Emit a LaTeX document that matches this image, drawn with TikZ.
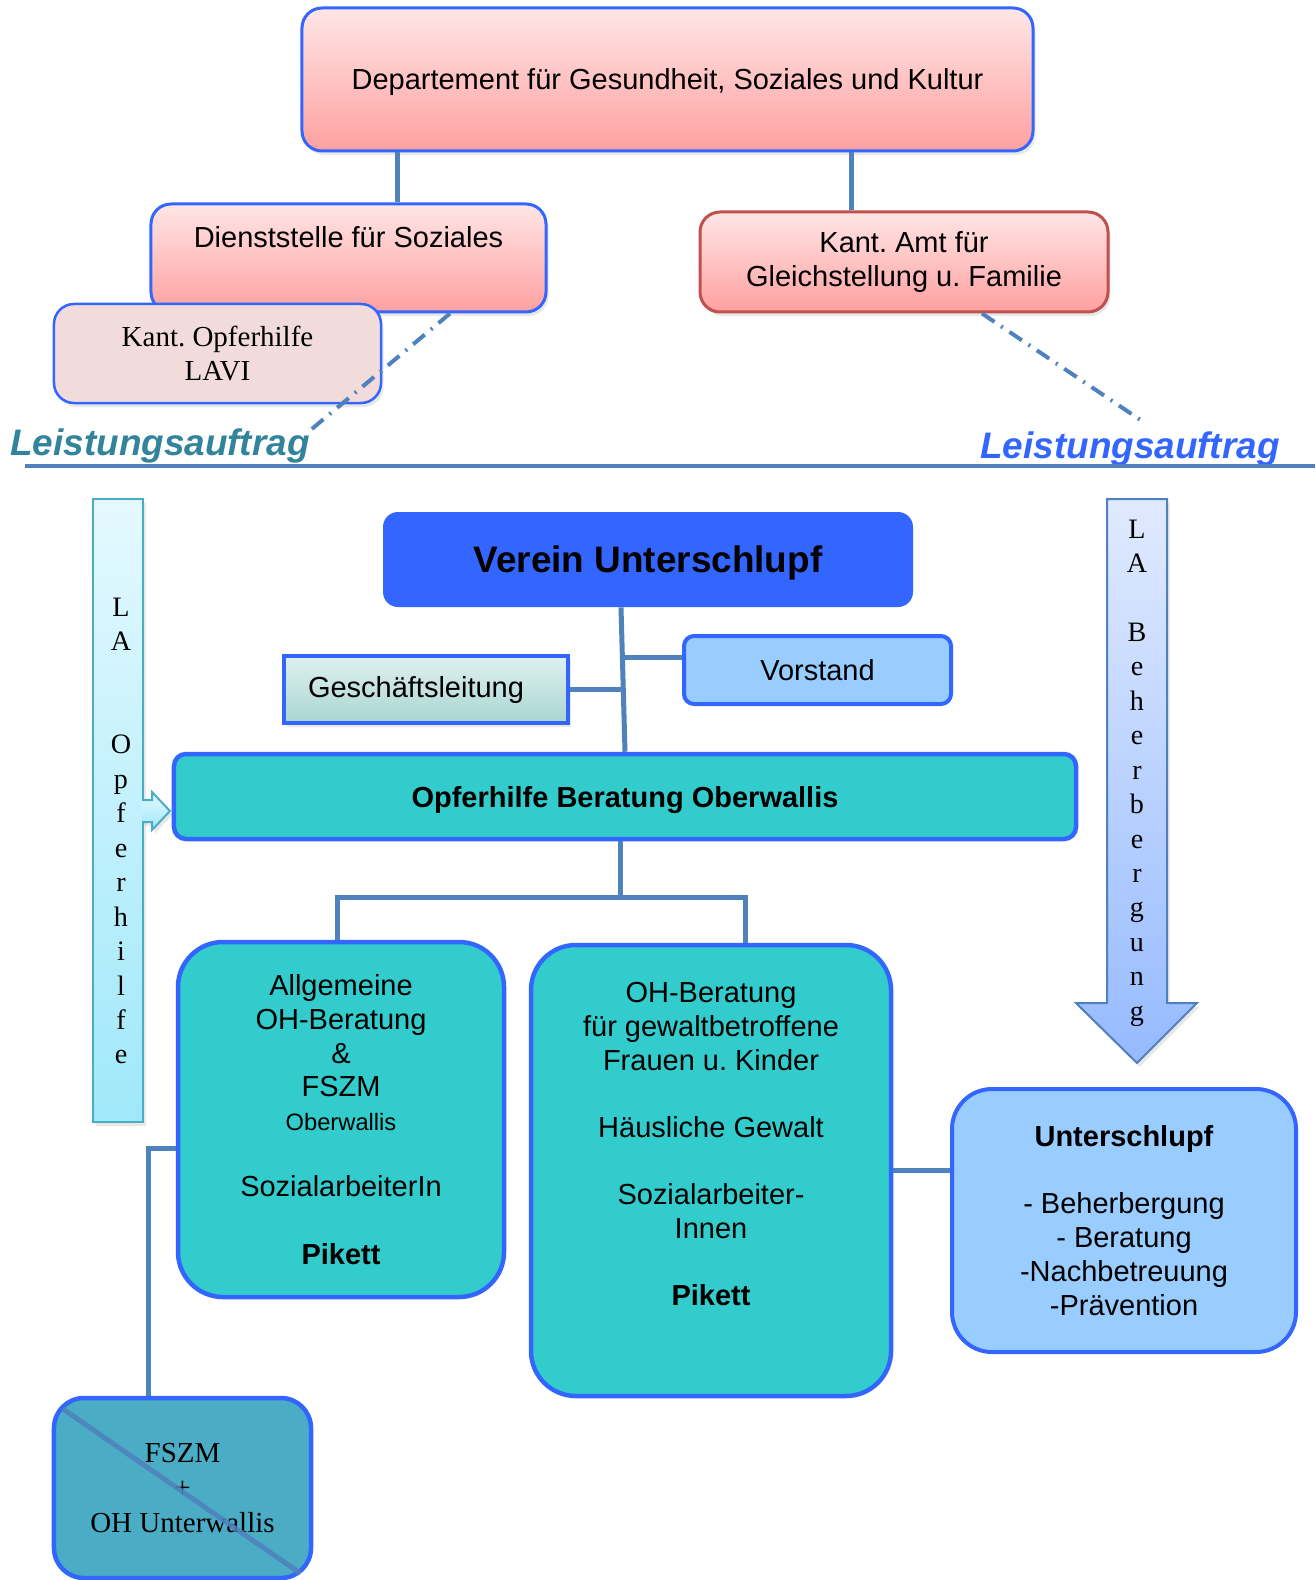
\documentclass[tikz,border=0pt]{standalone}
\usepackage{fontspec}
\setsansfont{Liberation Sans}
\newfontfamily\serifface{Liberation Serif}
\usepackage{tikz}
\usetikzlibrary{positioning,shadows}
\usepackage{xcolor}
\definecolor{boxblue}{RGB}{51,102,255}
\definecolor{steel}{RGB}{79,129,189}
\definecolor{lateal}{RGB}{49,132,155}
\definecolor{amtred}{RGB}{192,80,77}
\definecolor{pinktop}{RGB}{255,230,230}
\definecolor{pinkbot}{RGB}{255,160,160}
\definecolor{lavifill}{RGB}{242,220,219}
\definecolor{gltop}{RGB}{224,240,242}
\definecolor{glbot}{RGB}{168,214,208}
\definecolor{skyfill}{RGB}{153,204,255}
\definecolor{tealfill}{RGB}{51,204,204}
\definecolor{fszmfill}{RGB}{75,172,198}
\definecolor{lbartop}{RGB}{228,249,255}
\definecolor{lbarbot}{RGB}{160,232,250}
\definecolor{rartop}{RGB}{224,234,255}
\definecolor{rarbot}{RGB}{150,186,255}
\frenchspacing

\begin{document}
\begin{tikzpicture} [
        x = 0.2mm, y = -0.2mm,
        every node/.style = { inner sep = 0, align = center, font = \sffamily\fontsize{16.5}{19.2}\selectfont },
        softshadow/.style = { drop shadow = {opacity=.18,shadow xshift=.5mm,shadow yshift=-.8mm} },
        pinkbox/.style = { draw = boxblue, line width = .6mm, rounded corners = 4mm, top color = pinktop, bottom color = pinkbot, softshadow },
        lavibox/.style = { draw = boxblue, line width = .5mm, rounded corners = 4mm, fill = lavifill, softshadow, font = \serifface\fontsize{16.5}{19.9}\selectfont },
        vereinbox/.style = { fill = boxblue, rounded corners = 3mm, text depth = 0pt, font = \sffamily\bfseries\fontsize{21}{24}\selectfont },
        glbox/.style = { draw = boxblue, line width = .8mm, top color = gltop, bottom color = glbot, softshadow },
        skybox/.style = { draw = boxblue, line width = .8mm, fill = skyfill },
        tealbox/.style = { draw = boxblue, line width = .9mm, fill = tealfill },
        fszmbox/.style = { draw = boxblue, line width = .9mm, rounded corners = 6mm, fill = fszmfill, font = \serifface\fontsize{16.5}{19.9}\selectfont },
        lbarbox/.style = { draw = fszmfill, line width = .4mm, top color = lbartop, bottom color = lbarbot, softshadow },
        rarrow/.style = { draw = steel, line width = .4mm, top color = rartop, bottom color = rarbot, softshadow },
        vletters/.style = { font = \serifface\fontsize{16}{19.6}\selectfont },
        latitle/.style = { font = \sffamily\bfseries\itshape\fontsize{21}{24}\selectfont },
        conn/.style = { draw = steel, line width = 1mm },
        lalink/.style = { draw = steel, line width = .8mm, dash pattern = on 3mm off 1.6mm on .4mm off 1.6mm },
        strike/.style = { draw = steel, line width = 1mm, opacity = .85 }
        ]
        \useasboundingbox (0,0) rectangle (1315,1580);

        \node [pinkbox, text depth = 0pt, minimum width = 146.2mm, minimum height = 28.6mm] (dept) at (667.5,79.5) {Departement für Gesundheit, Soziales und Kultur};
        \node [pinkbox, minimum width = 79mm, minimum height = 21.6mm] (diens) at (348.5,258) {};
        \node (dienstxt) at (348.5,237) {Dienststelle für Soziales};
        \node [pinkbox, draw = amtred, minimum width = 81.6mm, minimum height = 20mm] (amt) at (904,262) {Kant. Amt für\\Gleichstellung u. Familie};
        \node [lavibox, minimum width = 65.4mm, minimum height = 19.8mm] (lavi) at (217.5,353.5) {Kant. Opferhilfe\\LAVI};

        \draw [conn] ([xshift = -54.1mm]dept.south) -- ([xshift = -54.1mm]dept.south |- diens.north);
        \draw [conn] ([xshift = 36.7mm]dept.south) -- ([xshift = 36.7mm]dept.south |- amt.north);

        \coordinate (laleft) at (307,433);
        \coordinate (laright) at (1142,421);
        \draw [lalink] ([xshift = 20.3mm]diens.south) -- (laleft);
        \draw [lalink] ([xshift = 15.6mm]amt.south) -- (laright);

        \node [latitle, text = lateal, anchor = base] (laltxt) at (160,455) {Leistungsauftrag};
        \node [latitle, text = boxblue, anchor = base] (lartxt) at (1130,458) {Leistungsauftrag};

        \coordinate (hleft) at (25,466);
        \coordinate (hright) at (1315,466);
        \draw [steel, line width = .9mm] (hleft) -- (hright);

        \node [lbarbox, minimum width = 10mm, minimum height = 124.6mm] (lbar) at (118,810.5) {};
        \draw [lbarbox] (142,800) -- (152,800) -- (152,792) -- (170,811) -- (152,830) -- (152,822) -- (142,822);
        \node [vletters] (lbartxt) at (121,831) {L\\A\\~\\~\\O\\p\\f\\e\\r\\h\\i\\l\\f\\e};

        \draw [rarrow] (1107,499) -- (1167,499) -- (1167,1003) -- (1197,1003) -- (1137,1063) -- (1076,1003) -- (1107,1003) -- cycle;
        \node [vletters] (rarrtxt) at (1137,773) {L\\A\\~\\B\\e\\h\\e\\r\\b\\e\\r\\g\\u\\n\\g};

        \node [vereinbox, minimum width = 106mm, minimum height = 19mm] (verein) at (648,559.5) {Verein Unterschlupf};
        \node [glbox, minimum width = 56.8mm, minimum height = 13.4mm] (gl) at (426,689.5) {Geschäftsleitung\hspace{4mm}};
        \node [skybox, rounded corners = 2mm, minimum width = 53.4mm, minimum height = 13.6mm] (vorstand) at (817.5,670) {Vorstand};
        \node [tealbox, rounded corners = 2.4mm, text depth = 0pt, minimum width = 180.4mm, minimum height = 17mm, font = \sffamily\bfseries\fontsize{16.5}{19.2}\selectfont] (obo) at (625,796.5) {Opferhilfe Beratung Oberwallis};

        \draw [conn] ([xshift = -5.4mm]verein.south) -- (obo.north);
        \draw [conn] (gl.east) -- ++(11mm,0);
        \draw [conn] ([yshift = 2.6mm]vorstand.west) -- ++(-12.2mm,0);

        \node [tealbox, rounded corners = 9mm, minimum width = 65.2mm, minimum height = 71mm] (allg) at (341,1119.5) {Allgemeine\\OH-Beratung\\\&\\FSZM\\{\fontsize{13.5}{16}\selectfont Oberwallis}\\[18pt]SozialarbeiterIn\\[19.5pt]\textbf{Pikett}};
        \node [tealbox, rounded corners = 9mm, minimum width = 72mm, minimum height = 90.2mm] (mid) at (711,1170.5) {};
        \node (midtxt) at (711,1144) {OH-Beratung\\für gewaltbetroffene\\Frauen u. Kinder\\[19pt]Häusliche Gewalt\\[19pt]Sozialarbeiter-\\Innen\\[19pt]\textbf{Pikett}};
        \node [skybox, rounded corners = 8mm, minimum width = 68.8mm, minimum height = 52.6mm] (unter) at (1124,1220.5) {\textbf{Unterschlupf}\\[19pt]- Beherbergung\\- Beratung\\-Nachbetreuung\\-Prävention};
        \node [fszmbox, minimum width = 51.4mm, minimum height = 36mm] (fszm) at (182.5,1488) {FSZM\\+\\OH Unterwallis};

        \draw [conn] ([xshift = -1mm]obo.south) -- ++(0,-11.2mm) coordinate (fork);
        \draw [conn] ([xshift = -0.8mm]allg.north) |- (fork) -| ([xshift = 6.8mm]mid.north);
        \draw [conn] (mid.east) -- (mid.east -| unter.west);
        \draw [conn] ([yshift = -5.7mm]allg.west) -| ([xshift = -6.9mm]fszm.north);
        \draw [strike] ([xshift = 2.2mm, yshift = -2.6mm]fszm.north west) -- ([xshift = -2.6mm, yshift = 1.4mm]fszm.south east);
    \end{tikzpicture}
\end{document}
